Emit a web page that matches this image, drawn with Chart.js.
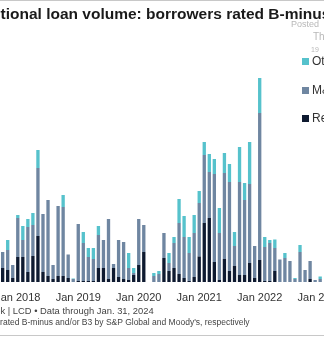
<!DOCTYPE html>
<html>
<head>
<meta charset="utf-8">
<script src="https://cdn.jsdelivr.net/npm/chart.js@4.4.1/dist/chart.umd.min.js"></script>
<style>
  html, body { margin:0; padding:0; background:#fff; }
  body { width:324px; height:345px; overflow:hidden; position:relative; font-family:"Liberation Sans", Arial, sans-serif; }
  #wrap { position:absolute; left:-40px; top:0; width:404px; height:345px; }
  .t { position:absolute; white-space:nowrap; }
  #title { left:-46px; top:5px; font-weight:bold; font-size:15.5px; line-height:18px; color:#1a1a1a; }
  #f1 { left:-72px; top:305px; font-size:9.4px; line-height:11px; color:#444; }
  #f2 { left:-41px; top:317px; font-size:8.5px; line-height:11px; color:#444; }
  .faint { color:#b8b8b8; }
  .leg { position:absolute; left:302px; font-size:12px; line-height:14px; color:#333; white-space:nowrap; }
  .leg i { display:inline-block; width:7px; height:7px; margin-right:3px; vertical-align:0px; }
  #topline { position:absolute; left:0; top:0; width:324px; height:1px; background:#c8c8c8; }
  #botline { position:absolute; left:0; top:335px; width:324px; height:1px; background:#c8c8c8; }
</style>
</head>
<body>
<div id="wrap"><canvas id="c" width="404" height="345"></canvas></div>
<div id="topline"></div>
<div id="botline"></div>
<div class="t" id="title">Institutional loan volume: borrowers rated B-minus/B3</div>
<div class="t faint" style="left:291px;top:19px;font-size:9px;">Posted</div>
<div class="t faint" style="left:313px;top:31px;font-size:10px;">Th</div>
<div class="t faint" style="left:311px;top:46px;font-size:7px;">19</div>
<div id="legend"></div>
<div class="t" id="f1">Source: PitchBook | LCD • Data through Jan. 31, 2024</div>
<div class="t" id="f2">Borrowers rated B-minus and/or B3 by S&amp;P Global and Moody's, respectively</div>
<script>
// Months from Sep 2017 to Jan 2023
const months = ["Sep 2017","Oct 2017","Nov 2017","Dec 2017",
  "Jan 2018","Feb 2018","Mar 2018","Apr 2018","May 2018","Jun 2018","Jul 2018","Aug 2018","Sep 2018","Oct 2018","Nov 2018","Dec 2018",
  "Jan 2019","Feb 2019","Mar 2019","Apr 2019","May 2019","Jun 2019","Jul 2019","Aug 2019","Sep 2019","Oct 2019","Nov 2019","Dec 2019",
  "Jan 2020","Feb 2020","Mar 2020","Apr 2020","May 2020","Jun 2020","Jul 2020","Aug 2020","Sep 2020","Oct 2020","Nov 2020","Dec 2020",
  "Jan 2021","Feb 2021","Mar 2021","Apr 2021","May 2021","Jun 2021","Jul 2021","Aug 2021","Sep 2021","Oct 2021","Nov 2021","Dec 2021",
  "Jan 2022","Feb 2022","Mar 2022","Apr 2022","May 2022","Jun 2022","Jul 2022","Aug 2022","Sep 2022","Oct 2022","Nov 2022","Dec 2022",
  "Jan 2023"];
const tickLabels = ["Jan 2018","Jan 2019","Jan 2020","Jan 2021","Jan 2022","Jan 2023"];
const seriesNames = ["Other","M&A","Refinancing"];
const seriesColors = ["#56c2cc","#6f86a1","#0e1a30"];

// estimated values (arbitrary $B units)
const refinancing = [1.2,1.4,1.2,0.4, 2.5,2.5,1.0,2.6,4.6,1.0,0.6,0.3,0.6,0.6,0.4,0,
  0.1,0.1,0.1,0.1,1.4,1.4,0.3,1.4,0.5,0.3,0.2,0.7,
  1.7,3.0,0,0,0,2.4,1.1,1.4,0.8,0.4,0.1,0.5,
  2.55,5.9,6.4,2.0,0.2,2.3,1.1,1.6,0.7,0.7,1.9,0.4,
  2.2,0.1,0.1,1.1,0,0,0,0,0,0,0.3,0,
  0];
const mna = [2.0,1.6,2.0,1.3, 3.9,1.7,4.5,3.1,6.8,5.8,7.6,1.4,7.0,6.9,2.35,0.3,
  5.7,3.8,2.4,2.2,3.3,2.8,6.0,0.4,3.7,3.7,1.2,0.2,
  4.6,2.7,0,0.6,0.8,2.5,0.8,2.5,5.1,4.1,2.8,4.4,
  5.35,6.8,4.6,8.8,4.7,8.6,8.9,2.0,9.3,7.5,7.9,3.2,
  14.7,3.4,3.8,2.3,2.25,2.4,2.1,0.3,3.0,1.2,1.8,0.2,
  0.3];
const other = [4.5,0,1.0,0, 0.3,1.4,0.8,1.2,1.8,0,0,0,0,1.2,0,0.05,
  0,1.1,0.9,1.1,0.9,0,0,0,0,0,1.5,0.5,
  0,0,0,0.3,0.3,0,1.0,0.6,2.4,2.1,1.6,1.8,
  1.2,1.3,1.8,1.5,2.5,2.0,1.8,1.4,3.5,1.7,4.2,0,
  3.5,1.0,0.3,0.85,0,0.5,0,0.1,0.7,0,0,0,
  0.25];

// HTML legend
const legTops = [54, 83, 111];
const legEl = document.getElementById('legend');
seriesNames.forEach((n, k) => {
  const d = document.createElement('div');
  d.className = 'leg';
  d.style.top = legTops[k] + 'px';
  d.innerHTML = '<i style="background:' + seriesColors[k] + '"></i>' + n.replace('&','&amp;');
  legEl.appendChild(d);
});

new Chart(document.getElementById('c'), {
  type: 'bar',
  data: {
    labels: months,
    datasets: [
      { label: seriesNames[2], data: refinancing, backgroundColor: seriesColors[2] },
      { label: seriesNames[1], data: mna, backgroundColor: seriesColors[1] },
      { label: seriesNames[0], data: other, backgroundColor: seriesColors[0] }
    ]
  },
  options: {
    responsive: false,
    animation: false,
    events: [],
    layout: { padding: { left: 35.1, right: 41.3, top: 70, bottom: 30.8 } },
    datasets: { bar: { barPercentage: 0.66, categoryPercentage: 1.0 } },
    plugins: { legend: { display: false }, tooltip: { enabled: false }, title: { display: false } },
    scales: {
      x: {
        stacked: true,
        offset: true,
        grid: { display: false, drawTicks: false },
        border: { display: false },
        ticks: {
          autoSkip: false, maxRotation: 0, minRotation: 0, padding: 9.5,
          color: '#333',
          font: { family: '"Liberation Sans", Arial, sans-serif', size: 11 },
          callback: function(v) { const l = this.getLabelForValue(v); return tickLabels.includes(l) ? l : ''; }
        }
      },
      y: { stacked: true, display: false, min: 0, max: 21.2 }
    }
  }
});
</script>
</body>
</html>
